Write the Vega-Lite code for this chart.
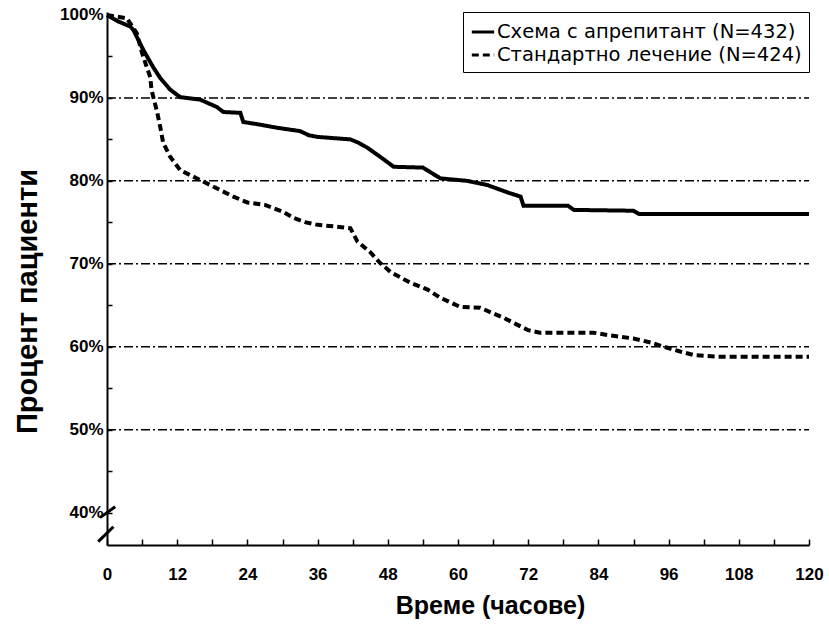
{
  "$schema": "https://vega.github.io/schema/vega-lite/v6.json",
  "width": 702,
  "height": 533,
  "autosize": {"type": "none"},
  "padding": {"left": 107, "top": 12, "right": 20, "bottom": 82},
  "background": "white",
  "config": {
    "view": {"stroke": null},
    "font": "Liberation Sans"
  },
  "datasets": {
    "curves": [
      {"series": "Схема с апрепитант (N=432)", "t": 0, "p": 100},
      {"series": "Схема с апрепитант (N=432)", "t": 0.5, "p": 99.8},
      {"series": "Схема с апрепитант (N=432)", "t": 2, "p": 99.2},
      {"series": "Схема с апрепитант (N=432)", "t": 4, "p": 98.6},
      {"series": "Схема с апрепитант (N=432)", "t": 4.5, "p": 98.2},
      {"series": "Схема с апрепитант (N=432)", "t": 5.5, "p": 96.8},
      {"series": "Схема с апрепитант (N=432)", "t": 6.2, "p": 95.8},
      {"series": "Схема с апрепитант (N=432)", "t": 7.9, "p": 93.7},
      {"series": "Схема с апрепитант (N=432)", "t": 9.1, "p": 92.4},
      {"series": "Схема с апрепитант (N=432)", "t": 10.8, "p": 91},
      {"series": "Схема с апрепитант (N=432)", "t": 12.5, "p": 90.1},
      {"series": "Схема с апрепитант (N=432)", "t": 15.9, "p": 89.8},
      {"series": "Схема с апрепитант (N=432)", "t": 18.8, "p": 88.9},
      {"series": "Схема с апрепитант (N=432)", "t": 19.9, "p": 88.3},
      {"series": "Схема с апрепитант (N=432)", "t": 22.8, "p": 88.2},
      {"series": "Схема с апрепитант (N=432)", "t": 23.3, "p": 87.1},
      {"series": "Схема с апрепитант (N=432)", "t": 26, "p": 86.8},
      {"series": "Схема с апрепитант (N=432)", "t": 29.1, "p": 86.4},
      {"series": "Схема с апрепитант (N=432)", "t": 33, "p": 86},
      {"series": "Схема с апрепитант (N=432)", "t": 34.5, "p": 85.5},
      {"series": "Схема с апрепитант (N=432)", "t": 36, "p": 85.3},
      {"series": "Схема с апрепитант (N=432)", "t": 41.6, "p": 85},
      {"series": "Схема с апрепитант (N=432)", "t": 43, "p": 84.6},
      {"series": "Схема с апрепитант (N=432)", "t": 44.5, "p": 84},
      {"series": "Схема с апрепитант (N=432)", "t": 46.7, "p": 82.9},
      {"series": "Схема с апрепитант (N=432)", "t": 49, "p": 81.7},
      {"series": "Схема с апрепитант (N=432)", "t": 54, "p": 81.6},
      {"series": "Схема с апрепитант (N=432)", "t": 57, "p": 80.3},
      {"series": "Схема с апрепитант (N=432)", "t": 61.6, "p": 80},
      {"series": "Схема с апрепитант (N=432)", "t": 65, "p": 79.5},
      {"series": "Схема с апрепитант (N=432)", "t": 68.5, "p": 78.6},
      {"series": "Схема с апрепитант (N=432)", "t": 70.7, "p": 78.1},
      {"series": "Схема с апрепитант (N=432)", "t": 71.2, "p": 77},
      {"series": "Схема с апрепитант (N=432)", "t": 78.8, "p": 77},
      {"series": "Схема с апрепитант (N=432)", "t": 79.8, "p": 76.5},
      {"series": "Схема с апрепитант (N=432)", "t": 90, "p": 76.4},
      {"series": "Схема с апрепитант (N=432)", "t": 91, "p": 76},
      {"series": "Схема с апрепитант (N=432)", "t": 120, "p": 76},
      {"series": "Стандартно лечение (N=424)", "t": 0, "p": 100},
      {"series": "Стандартно лечение (N=424)", "t": 3.4, "p": 99.6},
      {"series": "Стандартно лечение (N=424)", "t": 5.1, "p": 97.8},
      {"series": "Стандартно лечение (N=424)", "t": 6, "p": 95.4},
      {"series": "Стандартно лечение (N=424)", "t": 6.8, "p": 93.7},
      {"series": "Стандартно лечение (N=424)", "t": 7.4, "p": 92.5},
      {"series": "Стандартно лечение (N=424)", "t": 7.6, "p": 91},
      {"series": "Стандартно лечение (N=424)", "t": 8.6, "p": 88.2},
      {"series": "Стандартно лечение (N=424)", "t": 9.1, "p": 86.5},
      {"series": "Стандартно лечение (N=424)", "t": 9.6, "p": 84.6},
      {"series": "Стандартно лечение (N=424)", "t": 10.8, "p": 82.9},
      {"series": "Стандартно лечение (N=424)", "t": 12.5, "p": 81.3},
      {"series": "Стандартно лечение (N=424)", "t": 14.2, "p": 80.7},
      {"series": "Стандартно лечение (N=424)", "t": 15.9, "p": 80.1},
      {"series": "Стандартно лечение (N=424)", "t": 18.2, "p": 79.3},
      {"series": "Стандартно лечение (N=424)", "t": 21.6, "p": 78.1},
      {"series": "Стандартно лечение (N=424)", "t": 24, "p": 77.4},
      {"series": "Стандартно лечение (N=424)", "t": 27, "p": 77.1},
      {"series": "Стандартно лечение (N=424)", "t": 30, "p": 76.3},
      {"series": "Стандартно лечение (N=424)", "t": 32, "p": 75.5},
      {"series": "Стандартно лечение (N=424)", "t": 34, "p": 75},
      {"series": "Стандартно лечение (N=424)", "t": 36, "p": 74.7},
      {"series": "Стандартно лечение (N=424)", "t": 39, "p": 74.5},
      {"series": "Стандартно лечение (N=424)", "t": 41.6, "p": 74.3},
      {"series": "Стандартно лечение (N=424)", "t": 42.8, "p": 72.7},
      {"series": "Стандартно лечение (N=424)", "t": 45, "p": 71.4},
      {"series": "Стандартно лечение (N=424)", "t": 46.7, "p": 70.1},
      {"series": "Стандартно лечение (N=424)", "t": 48.5, "p": 69},
      {"series": "Стандартно лечение (N=424)", "t": 51.9, "p": 67.7},
      {"series": "Стандартно лечение (N=424)", "t": 54.8, "p": 66.9},
      {"series": "Стандартно лечение (N=424)", "t": 57, "p": 65.9},
      {"series": "Стандартно лечение (N=424)", "t": 60.4, "p": 64.8},
      {"series": "Стандартно лечение (N=424)", "t": 63.8, "p": 64.7},
      {"series": "Стандартно лечение (N=424)", "t": 66.1, "p": 64},
      {"series": "Стандартно лечение (N=424)", "t": 67.8, "p": 63.5},
      {"series": "Стандартно лечение (N=424)", "t": 70, "p": 62.7},
      {"series": "Стандартно лечение (N=424)", "t": 72, "p": 62},
      {"series": "Стандартно лечение (N=424)", "t": 74, "p": 61.7},
      {"series": "Стандартно лечение (N=424)", "t": 83.2, "p": 61.7},
      {"series": "Стандартно лечение (N=424)", "t": 85.6, "p": 61.4},
      {"series": "Стандартно лечение (N=424)", "t": 87.8, "p": 61.2},
      {"series": "Стандартно лечение (N=424)", "t": 90, "p": 61},
      {"series": "Стандартно лечение (N=424)", "t": 93, "p": 60.5},
      {"series": "Стандартно лечение (N=424)", "t": 95.2, "p": 60},
      {"series": "Стандартно лечение (N=424)", "t": 98.1, "p": 59.4},
      {"series": "Стандартно лечение (N=424)", "t": 100.3, "p": 59},
      {"series": "Стандартно лечение (N=424)", "t": 104.5, "p": 58.8},
      {"series": "Стандартно лечение (N=424)", "t": 120, "p": 58.8}
    ],
    "grid": [
      {"t": 0, "t2": 120, "p": 50, "p2": 50},
      {"t": 0, "t2": 120, "p": 60, "p2": 60},
      {"t": 0, "t2": 120, "p": 70, "p2": 70},
      {"t": 0, "t2": 120, "p": 80, "p2": 80},
      {"t": 0, "t2": 120, "p": 90, "p2": 90}
    ],
    "breaks": [
      {"t": -1.2, "t2": 1.4, "p": 39.4, "p2": 40.7},
      {"t": -1.5, "t2": 1.1, "p": 36.5, "p2": 38.3}
    ]
  },
  "encoding": {
    "x": {
      "field": "t",
      "type": "quantitative",
      "scale": {"domain": [0, 120], "nice": false, "zero": false},
      "axis": {
        "title": "Време (часове)",
        "values": [0, 6, 12, 18, 24, 30, 36, 42, 48, 54, 60, 66, 72, 78, 84, 90, 96, 102, 108, 114, 120],
        "labelExpr": "datum.value % 12 == 0 ? datum.label : ''",
        "labelFlush": false,
        "grid": false,
        "domainColor": "black",
        "domainWidth": 2,
        "tickColor": "black",
        "tickWidth": 1.5,
        "tickSize": -6,
        "labelPadding": 27,
        "labelFont": "Liberation Sans",
        "labelFontWeight": "bold",
        "labelFontSize": 17,
        "labelColor": "black",
        "titleFont": "Liberation Sans",
        "titleFontWeight": "bold",
        "titleFontSize": 25,
        "titleColor": "black",
        "titlePadding": 11,
        "titleX": 383
      }
    },
    "y": {
      "field": "p",
      "type": "quantitative",
      "scale": {"domain": [36.1, 100.36], "nice": false, "zero": false},
      "axis": {
        "title": "Процент пациенти",
        "values": [40, 45, 50, 55, 60, 65, 70, 75, 80, 85, 90, 95, 100],
        "labelExpr": "datum.value % 10 == 0 ? datum.value + '%' : ''",
        "labelFlush": false,
        "grid": false,
        "domainColor": "black",
        "domainWidth": 2,
        "tickColor": "black",
        "tickWidth": 1.5,
        "tickSize": -5,
        "labelPadding": 9,
        "labelFont": "Liberation Sans",
        "labelFontWeight": "bold",
        "labelFontSize": 17,
        "labelColor": "black",
        "titleFont": "Liberation Sans",
        "titleFontWeight": "bold",
        "titleFontSize": 29,
        "titleColor": "black",
        "titlePadding": 17,
        "titleY": 289
      }
    }
  },
  "layer": [
    {
      "data": {"name": "grid"},
      "mark": {"type": "rule", "color": "black", "strokeWidth": 1.5, "strokeDash": [9, 3, 2, 3]},
      "encoding": {
        "x2": {"field": "t2"},
        "y2": {"field": "p2"}
      }
    },
    {
      "data": {"name": "curves"},
      "mark": {"type": "line", "color": "black", "strokeWidth": 4, "strokeJoin": "miter", "strokeCap": "butt"},
      "encoding": {
        "strokeDash": {
          "field": "series",
          "type": "nominal",
          "scale": {
            "domain": ["Схема с апрепитант (N=432)", "Стандартно лечение (N=424)"],
            "range": [[1, 0], [7, 4]]
          },
          "legend": {
            "title": null,
            "orient": "top-right",
            "offset": 0,
            "strokeColor": "black",
            "fillColor": "white",
            "padding": 7,
            "symbolType": "stroke",
            "symbolStrokeColor": "black",
            "symbolStrokeWidth": 3,
            "symbolSize": 500,
            "labelFont": "DejaVu Sans",
            "labelFontSize": 19.5,
            "labelColor": "black",
            "labelLimit": 400,
            "labelOffset": 1,
            "rowPadding": 0
          }
        }
      }
    },
    {
      "data": {"name": "breaks"},
      "mark": {"type": "rule", "color": "black", "strokeWidth": 3, "clip": false},
      "encoding": {
        "x2": {"field": "t2"},
        "y2": {"field": "p2"}
      }
    }
  ]
}
